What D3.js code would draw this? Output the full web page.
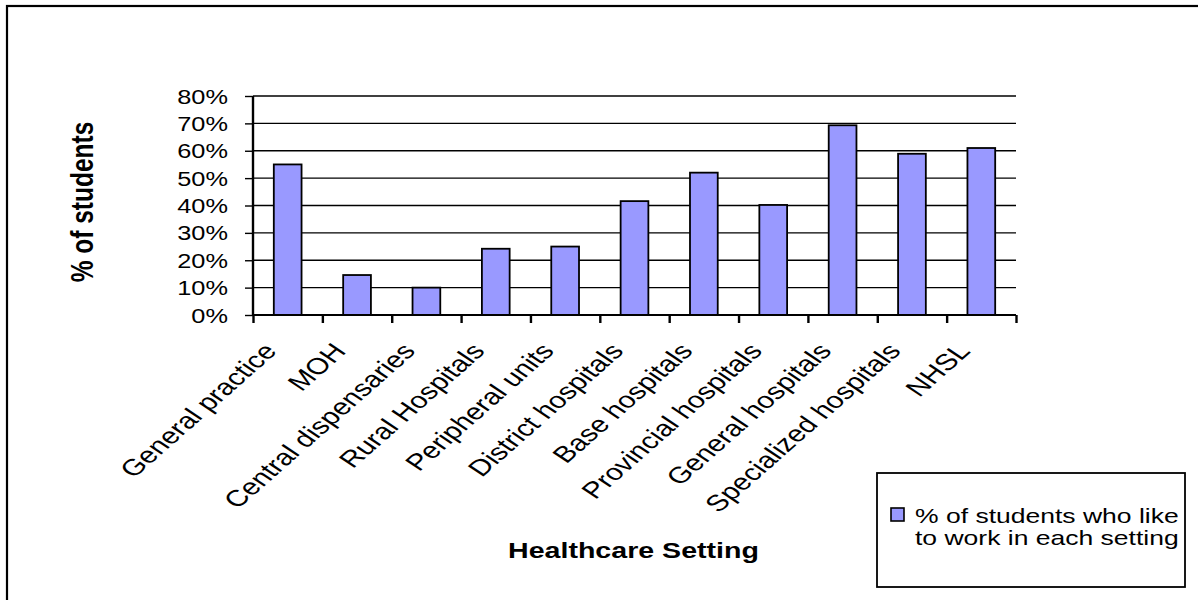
<!DOCTYPE html>
<html>
<head>
<meta charset="utf-8">
<script src="https://cdn.jsdelivr.net/npm/d3@7"></script>
<style>
  html, body { margin: 0; padding: 0; background: #fff; }
  svg { display: block; font-family: "Liberation Sans", Arial, sans-serif; }
</style>
</head>
<body>
<svg id="chart" width="1198" height="600"></svg>
<script>
// Healthcare settings and share of students who would like to work in each
const categories = [
  "General practice", "MOH", "Central dispensaries", "Rural Hospitals",
  "Peripheral units", "District hospitals", "Base hospitals",
  "Provincial hospitals", "General hospitals", "Specialized hospitals", "NHSL"
];
const values = [55, 14.6, 10, 24.2, 25, 41.6, 52, 40.2, 69.3, 58.9, 61];
const yTicks = [0, 10, 20, 30, 40, 50, 60, 70, 80];
const seriesName = ["% of students who like", "to work in each setting"];
const xTitle = "Healthcare Setting";
const yTitle = "% of students";

// Glyphs are drawn a little wider than tall
const SX = 1.3;

const svg = d3.select("#chart");
const plot = { left: 253, right: 1016, top: 96, bottom: 315 };

const x = d3.scaleBand().domain(categories).range([plot.left, plot.right]).padding(0);
const y = d3.scaleLinear().domain([0, 80]).range([plot.bottom, plot.top]);

// Outer frame
svg.append("rect")
  .attr("x", 7).attr("y", 6).attr("width", 1200).attr("height", 620)
  .attr("fill", "none").attr("stroke", "#000").attr("stroke-width", 2.2);

// Horizontal gridlines
svg.append("g").selectAll("line").data(yTicks.filter(d => d > 0)).join("line")
  .attr("x1", plot.left).attr("x2", plot.right)
  .attr("y1", d => y(d)).attr("y2", d => y(d))
  .attr("stroke", "#000").attr("stroke-width", 1.4);

// Bars
const barW = x.bandwidth() * 0.4;
svg.append("g").selectAll("rect").data(values).join("rect")
  .attr("x", (d, i) => x(categories[i]) + x.bandwidth() / 2 - barW / 2)
  .attr("y", d => y(d))
  .attr("width", barW)
  .attr("height", d => y(0) - y(d))
  .attr("fill", "#9999FF")
  .attr("stroke", "#000").attr("stroke-width", 1.8);

// Y axis
const yAxis = svg.append("g").attr("transform", `translate(${plot.left},0)`)
  .call(d3.axisLeft(y).tickValues(yTicks).tickSize(8).tickFormat(""));
yAxis.select(".domain").attr("stroke-width", 2.4).attr("d", `M0,${plot.top}V${plot.bottom}`);
yAxis.selectAll(".tick line").attr("stroke-width", 1.4);

svg.append("g").selectAll("text").data(yTicks).join("text")
  .attr("transform", d => `translate(228,${y(d) + 7.5}) scale(${SX},1)`)
  .attr("text-anchor", "end")
  .attr("font-size", 19.5)
  .attr("fill", "#000")
  .text(d => d + "%");

// X axis with ticks at category boundaries
const xb = d3.scaleLinear().domain([0, categories.length]).range([plot.left, plot.right]);
const xAxis = svg.append("g").attr("transform", `translate(0,${plot.bottom})`)
  .call(d3.axisBottom(xb).ticks(categories.length).tickSize(8).tickFormat(""));
xAxis.select(".domain").attr("stroke-width", 1.8).attr("d", `M${plot.left},0H${plot.right}`);
xAxis.selectAll(".tick line").attr("stroke-width", 2.4);

// Category labels, slanted
svg.append("g").selectAll("text").data(categories).join("text")
  .attr("transform", d => `translate(${x(d) + x.bandwidth() / 2 - 26},341) scale(${SX},1) rotate(-48.9)`)
  .attr("text-anchor", "end")
  .attr("dy", "0.72em")
  .attr("font-size", 23)
  .attr("fill", "#000")
  .text(d => d);

// Axis titles
svg.append("text")
  .attr("transform", `translate(633.5,558) scale(${SX},1)`)
  .attr("text-anchor", "middle")
  .attr("font-size", 22)
  .attr("font-weight", "bold")
  .text(xTitle);

svg.append("text")
  .attr("transform", `translate(93,202) scale(${SX},1) rotate(-90)`)
  .attr("text-anchor", "middle")
  .attr("font-size", 24.5)
  .attr("font-weight", "bold")
  .text(yTitle);

// Legend
const lg = svg.append("g");
lg.append("rect")
  .attr("x", 877).attr("y", 473).attr("width", 308).attr("height", 114)
  .attr("fill", "#fff").attr("stroke", "#000").attr("stroke-width", 1.8);
lg.append("rect")
  .attr("x", 891).attr("y", 508).attr("width", 13).attr("height", 13)
  .attr("fill", "#9999FF").attr("stroke", "#000").attr("stroke-width", 1.6);
lg.selectAll("text.entry").data(seriesName).join("text")
  .attr("class", "entry")
  .attr("transform", (d, i) => `translate(915,${522.5 + i * 22.5}) scale(${SX},1)`)
  .attr("font-size", 20.4)
  .attr("fill", "#000")
  .text(d => d);
</script>
</body>
</html>
